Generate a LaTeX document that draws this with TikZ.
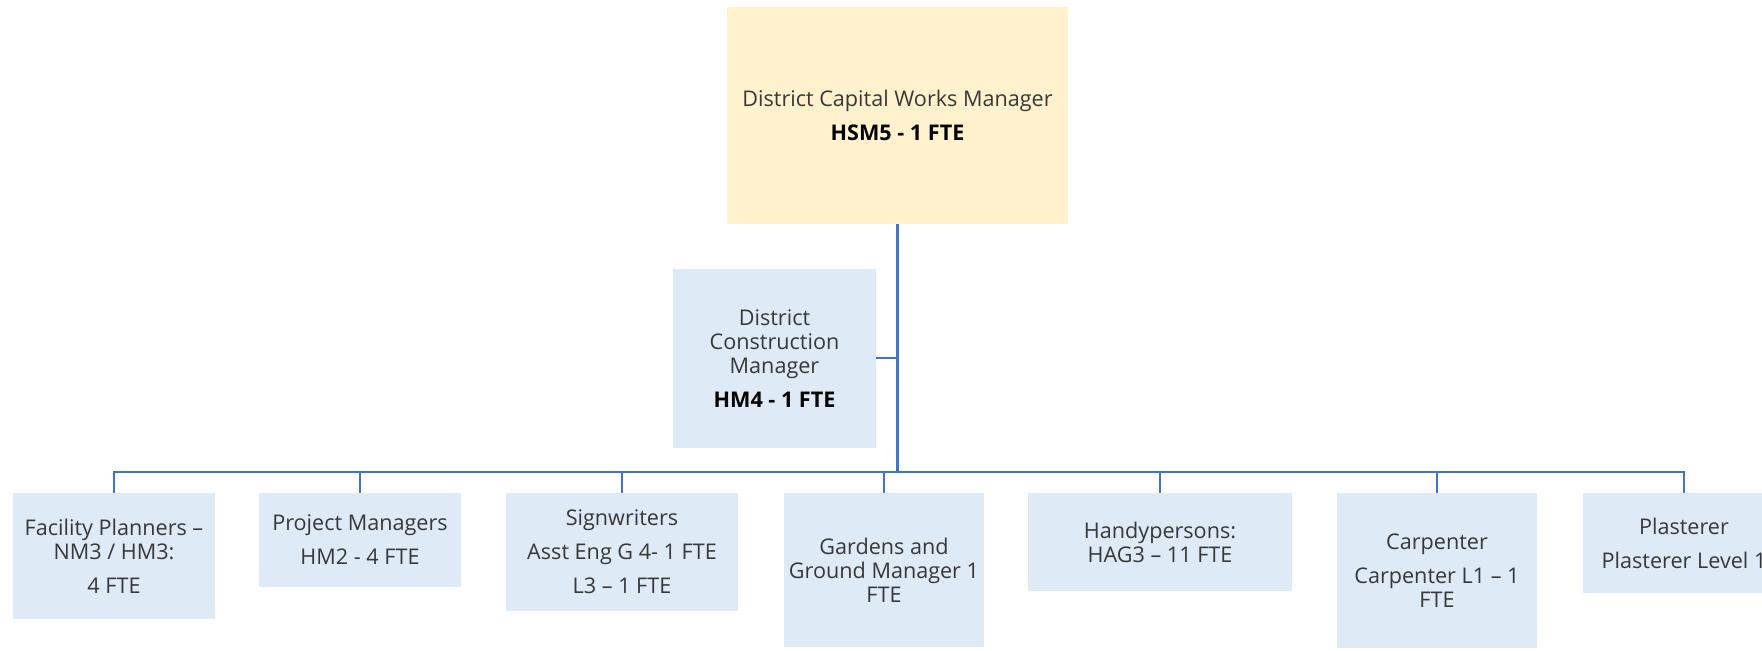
\documentclass[tikz,border=0pt]{standalone}
\usepackage{fontspec}
\setmainfont{Open Sans}
\usepackage{xcolor}
\definecolor{linkblue}{HTML}{4472C4}
\definecolor{headfill}{HTML}{FFF2CC}
\definecolor{rolefill}{HTML}{DEEAF6}

\begin{document}
\begin{tikzpicture}[x=0.5pt, y=-0.5pt, font=\fontsize{10.8}{12}\selectfont,
  role/.style={fill=rolefill, align=center, text=black!78, inner sep=0pt},
  head/.style={role, fill=headfill},
  link/.style={draw=linkblue, line width=1pt},
  trunk/.style={link, line width=1.5pt}]
\clip (0,0) rectangle (1762,651);
% boxes
\node[head, minimum width=170.5pt, minimum height=108.5pt] (top) at (897.5,115.5)
  {District Capital Works Manager\\[5pt]\textcolor{black}{\textbf{HSM5 - 1 FTE}}};
\node[role, minimum width=101.5pt, minimum height=89.5pt] (dcm) at (774.5,358.5)
  {District\\Construction\\Manager\\[5pt]\textcolor{black}{\textbf{HM4 - 1 FTE}}};
\node[role, minimum width=101pt, minimum height=63pt] (fp) at (114,556)
  {Facility Planners --\\NM3 / HM3:\\[5pt]4 FTE};
\node[role, minimum width=101pt, minimum height=47pt] (pm) at (360,540)
  {Project Managers\\[5pt]HM2 - 4 FTE};
\node[role, minimum width=116pt, minimum height=59pt] (sw) at (622,552)
  {Signwriters\\[5pt]Asst Eng G 4- 1 FTE\\[5pt]L3 -- 1 FTE};
\node[role, minimum width=100pt, minimum height=77pt] (gg) at (884,570)
  {Gardens and\\Ground Manager 1\\FTE};
\node[role, minimum width=132pt, minimum height=49pt] (hp) at (1160,542)
  {Handypersons:\\HAG3 -- 11 FTE};
\node[role, minimum width=100pt, minimum height=77.5pt] (cp) at (1437,570.5)
  {Carpenter\\[5pt]Carpenter L1 -- 1\\FTE};
\node[role, minimum width=101pt, minimum height=50pt] (pl) at (1684,543)
  {Plasterer\\[5pt]Plasterer Level 1};
% connectors
\coordinate (bus) at (0,472);
\draw[trunk] (top.south) -- (top.south |- bus);
\draw[link] (dcm.east) -- (dcm.east -| top.south);
\draw[link] (fp.north) -- (fp.north |- bus) -- (pl.north |- bus) -- (pl.north);
\foreach \n in {pm,sw,gg,hp,cp}
  \draw[link] (\n.north) -- (\n.north |- bus);
\end{tikzpicture}
\end{document}
